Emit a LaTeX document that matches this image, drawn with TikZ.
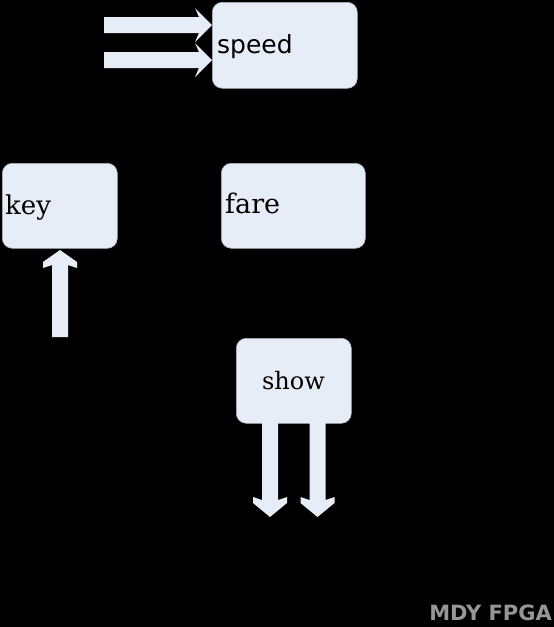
\documentclass[tikz,border=0pt]{standalone}
\usepackage{fontspec}
\newfontfamily\serifb{DejaVu Serif}
\newfontfamily\sansb{DejaVu Sans}
\newfontfamily\markf{DejaVu Sans}
\definecolor{boxfill}{RGB}{231,237,247}
\definecolor{boxline}{RGB}{170,176,186}
\definecolor{markgray}{RGB}{150,150,150}
\tikzset{
  blk/.style={draw=boxline, fill=boxfill, rounded corners=10pt, line width=0.6pt, anchor=north west, inner sep=0pt},
  arr/.style={fill=boxfill, draw=none},
  lbl/.style={anchor=base west, inner sep=0pt, text=black}
}
\begin{document}
\begin{tikzpicture}[x=1pt,y=-1pt]
\fill[black] (0,0) rectangle (554,627);
\useasboundingbox (0,0) rectangle (554,627);
% boxes
\node[blk, minimum width=145pt, minimum height=86pt] (speed) at (212,2) {};
\node[blk, minimum width=115pt, minimum height=85pt] (key) at (2,163) {};
\node[blk, minimum width=144pt, minimum height=85pt] (fare) at (221,163) {};
\node[blk, minimum width=115pt, minimum height=85pt] (show) at (236,338) {};
% labels
\node[lbl, font=\sansb\fontsize{25}{30}\selectfont] (speedt) at (217,53) {speed};
\node[lbl, font=\serifb\fontsize{26}{30}\selectfont] (keyt) at (5,214) {key};
\node[lbl, font=\serifb\fontsize{27}{30}\selectfont] (faret) at (225,213) {fare};
\node[anchor=base, inner sep=0pt, font=\serifb\fontsize{24}{30}\selectfont] (showt) at (293.5,389) {show};
% input arrows to speed
\foreach \cy in {25,60}{
  \fill[arr] (104,\cy-8) -- (199,\cy-8) -- (195,\cy-17) -- (212,\cy) -- (195,\cy+17) -- (199,\cy+8) -- (104,\cy+8) -- cycle;
}
% up arrow into key
\fill[arr] (52,337) -- (52,265) -- (43,268) -- (43,262) -- (60,250) -- (77,262) -- (77,268) -- (68,265) -- (68,337) -- cycle;
% down arrows from show
\foreach \cx in {270,317.5}{
  \fill[arr] (\cx-8,423) -- (\cx-8,500) -- (\cx-17,497) -- (\cx-17,503) -- (\cx,517) -- (\cx+17,503) -- (\cx+17,497) -- (\cx+8,500) -- (\cx+8,423) -- cycle;
}
% watermark
\node[anchor=base east, inner sep=0pt, text=markgray, font=\markf\bfseries\fontsize{21}{24}\selectfont] (mark) at (552,620) {MDY FPGA};
\end{tikzpicture}
\end{document}
